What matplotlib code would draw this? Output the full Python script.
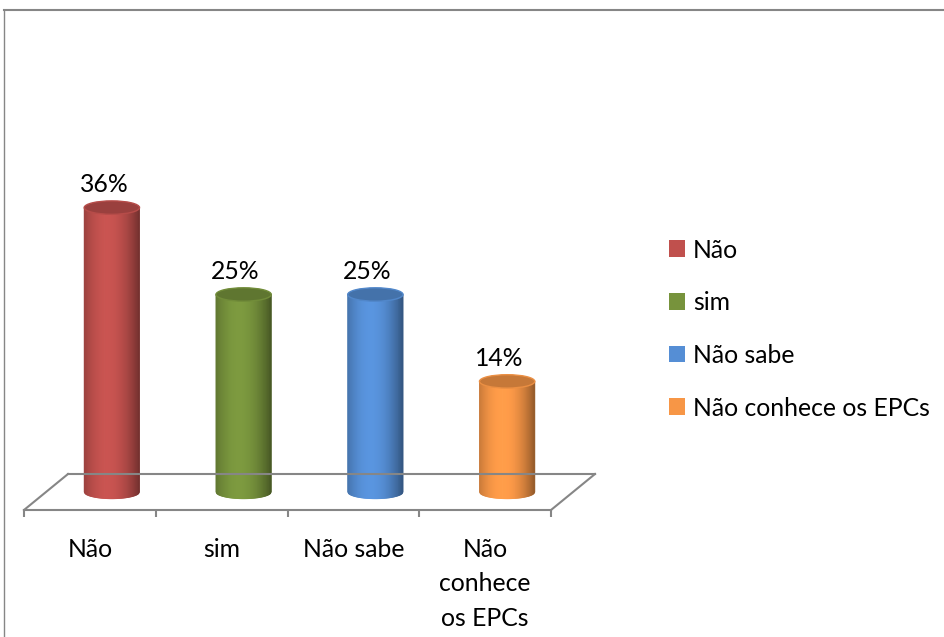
import matplotlib
matplotlib.use('Agg')
import matplotlib.pyplot as plt
import numpy as np
from matplotlib.patches import Ellipse, Patch
from matplotlib.collections import PolyCollection
from matplotlib.lines import Line2D
import matplotlib.transforms as mtrans
import matplotlib.colors as mcolors

categories = ["Não", "sim", "Não sabe", "Não conhece os EPCs"]
tick_labels = ["Não", "sim", "Não sabe", "Não\nconhece\nos EPCs"]
values = [36, 25, 25, 14]
colors = ["#c0504d", "#77933c", "#558ed5", "#f79646"]

plt.rcParams['font.family'] = ['Lato', 'DejaVu Sans']
W, H = 944, 637
DPI = 100
FS = 17.8
GRAY = "#868686"

fig = plt.figure(figsize=(W / DPI, H / DPI), dpi=DPI)
ax = fig.add_axes([24 / W, 127 / H, 527 / W, 395 / H])
ax.set_xlim(-0.5, 3.5)
ax.set_ylim(0, 50)
for s in ['left', 'right', 'top']:
    ax.spines[s].set_visible(False)
ax.spines['bottom'].set_color(GRAY)
ax.spines['bottom'].set_linewidth(1.5)
ax.set_yticks([])
ax.set_xticks(range(len(categories)), tick_labels, fontsize=FS, linespacing=1.6)
ax.tick_params(axis='x', which='major', length=0, pad=20, labelcolor='black')
ax.set_xticks(np.arange(len(categories) + 1) - 0.5, minor=True)
ax.tick_params(axis='x', which='minor', length=5, width=1.5, color=GRAY, direction='out')
ax.patch.set_alpha(0)

mid = ax.transData + mtrans.ScaledTranslation(22 / DPI, 18 / DPI, fig.dpi_scale_trans)
back = ax.transData + mtrans.ScaledTranslation(44 / DPI, 36 / DPI, fig.dpi_scale_trans)

# floor
ax.plot([-0.5, len(categories) - 0.5], [0, 0], color=GRAY, lw=1.5, transform=back, clip_on=False)
for xe in [-0.5, len(categories) - 0.5]:
    p0 = ax.transData.transform((xe, 0))
    p1 = back.transform((xe, 0))
    ax.add_line(Line2D([p0[0], p1[0]], [p0[1], p1[1]], color=GRAY, lw=1.5,
                       transform=mtrans.IdentityTransform(), clip_on=False))

rx = 0.21
ry = 0.85
N = 60
us = np.linspace(-1, 1, N + 1)


def shade(u):
    f = 1.05 - 0.45 * ((u + 0.15) / 1.15) ** 2
    return np.clip(f, 0.55, 1.08)


for i, (v, c) in enumerate(zip(values, colors)):
    base = np.array(mcolors.to_rgb(c))
    polys, fcs = [], []
    for a, b in zip(us[:-1], us[1:]):
        xa, xb = i + rx * a, i + rx * b
        ya, yb = -ry * np.sqrt(max(0, 1 - a * a)), -ry * np.sqrt(max(0, 1 - b * b))
        polys.append([(xa, ya), (xb, yb), (xb, v), (xa, v)])
        um = (a + b) / 2
        fcs.append(np.clip(base * shade(um), 0, 1))
    pc = PolyCollection(polys, facecolors=fcs, edgecolors=fcs, linewidths=0.6,
                        transform=mid, clip_on=False)
    ax.add_collection(pc)
    top = Ellipse((i, v), 2 * rx, 2 * ry, facecolor=np.clip(base * 0.8, 0, 1),
                  edgecolor=np.clip(base * 0.95, 0, 1), lw=1, transform=mid, clip_on=False)
    ax.add_patch(top)
    ax.annotate(f"{v}%", (i, v), xycoords=ax.transData, textcoords='offset pixels',
                xytext=(14, 41), ha='center', va='center', fontsize=FS, color='black')

handles = [Patch(facecolor=c, edgecolor='none') for c in colors]
fig.legend(handles, categories, loc='center left', bbox_to_anchor=(669 / W, 1 - 329 / H),
           frameon=False, fontsize=FS, handlelength=0.66, handleheight=0.66,
           handletextpad=0.3, labelspacing=1.2, borderpad=0, borderaxespad=0)

# outer border
fig.add_artist(Line2D([4 / W, 1], [1 - 10 / H, 1 - 10 / H], color=GRAY, lw=1.5,
                      transform=fig.transFigure))
fig.add_artist(Line2D([4 / W, 4 / W], [0, 1 - 10 / H], color=GRAY, lw=1,
                      transform=fig.transFigure))

fig.savefig("out.png", dpi=DPI)
